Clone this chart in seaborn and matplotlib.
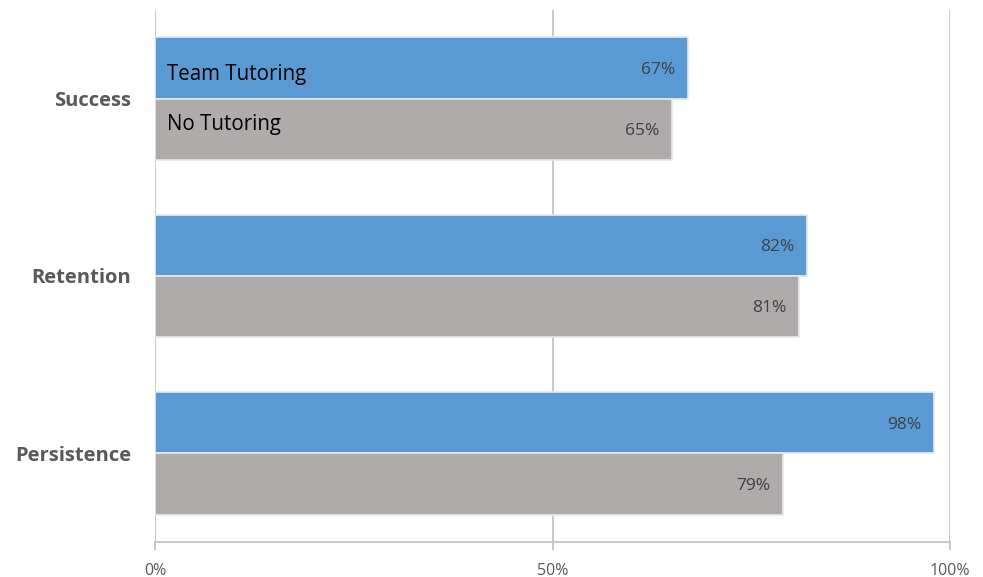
import matplotlib
matplotlib.use("Agg")
import matplotlib.pyplot as plt
import seaborn as sns
import pandas as pd

categories = ["Success", "Retention", "Persistence"]
team_tutoring = [67, 82, 98]
no_tutoring = [65, 81, 79]
series_names = ["Team Tutoring", "No Tutoring"]
x_ticks = [0, 50, 100]
x_ticklabels = ["0%", "50%", "100%"]

df = pd.DataFrame({
    "Category": categories * 2,
    "Value": team_tutoring + no_tutoring,
    "Group": [series_names[0]] * 3 + [series_names[1]] * 3,
})

sns.set_theme(style="white")
plt.rcParams["font.family"] = ["Open Sans", "DejaVu Sans"]

fig = plt.figure(figsize=(9.83, 5.77), dpi=100)
ax = fig.add_axes([155 / 983, 1 - 542 / 577, (950 - 155) / 983, (542 - 10) / 577])

palette = {"Team Tutoring": "#5B9BD5", "No Tutoring": "#AFABAB"}
sns.barplot(data=df, y="Category", x="Value", hue="Group", order=categories,
            hue_order=series_names, palette=palette, width=0.69, orient="h",
            edgecolor="#E8E8E8", linewidth=1.2, saturation=1, ax=ax, zorder=3)

ax.set_xlim(0, 100)
ax.set_ylim(2.5, -0.5)
ax.set_xticks(x_ticks)
ax.set_xticklabels(x_ticklabels, fontsize=11.5, color="#595959")
ax.set_xlabel("")
ax.set_ylabel("")
for lab in ax.get_yticklabels():
    lab.set_fontweight("bold")
    lab.set_fontsize(14.5)
    lab.set_color("#595959")
ax.tick_params(axis="y", length=0, pad=17)
ax.tick_params(axis="x", length=6, color="#BFBFBF", direction="out", pad=9, bottom=True)

for s in ["top", "right", "left"]:
    ax.spines[s].set_visible(False)
ax.spines["bottom"].set_color("#BFBFBF")
ax.spines["bottom"].set_linewidth(1.2)
for xv in x_ticks:
    ax.axvline(xv, color="#BFBFBF", linewidth=1.2, zorder=1)

if ax.get_legend() is not None:
    ax.get_legend().remove()

for container in ax.containers:
    for bar in container:
        w = bar.get_width()
        ax.text(w - 1.6, bar.get_y() + bar.get_height() / 2 + 0.01, f"{w:.0f}%",
                ha="right", va="center", fontsize=12.5, color="#404040", zorder=5)

# in-bar series labels (legend substitute)
first_bars = [c[0] for c in ax.containers]
offsets = [0.035, -0.025]
for bar, name, off in zip(first_bars, series_names, offsets):
    ax.text(1.5, bar.get_y() + bar.get_height() / 2 + off,
            name, ha="left", va="center", fontsize=14.8, color="#000000", zorder=5)

fig.savefig("out.png", dpi=100)
